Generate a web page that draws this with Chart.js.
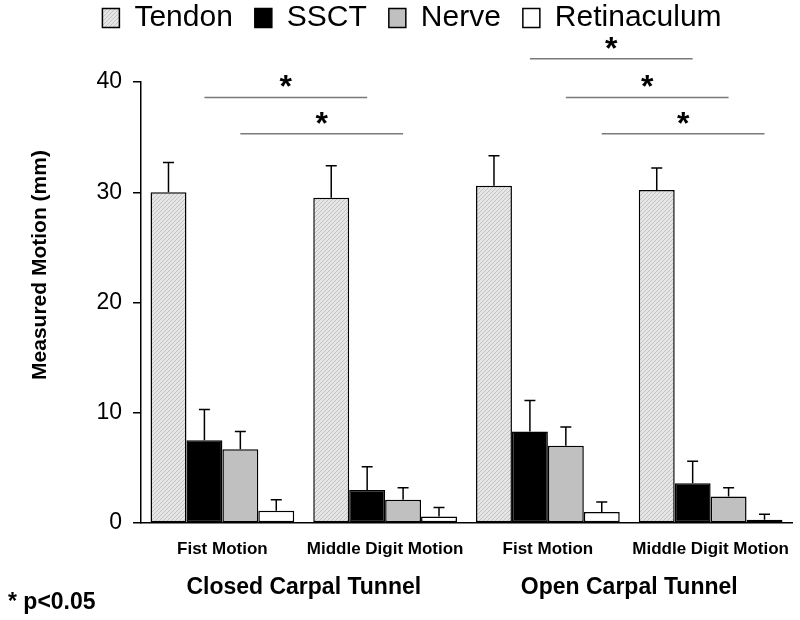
<!DOCTYPE html>
<html>
<head>
<meta charset="utf-8">
<script src="https://cdn.jsdelivr.net/npm/chart.js@4.4.0/dist/chart.umd.min.js"></script>
<style>
  body { margin: 0; background: #fff; }
  #wrap { width: 800px; height: 620px; }
</style>
</head>
<body>
<div id="wrap"><canvas id="grafico"></canvas></div>
<script>
// dados
const motions = ['Fist Motion', 'Middle Digit Motion', 'Fist Motion', 'Middle Digit Motion']
const conditions = ['Closed Carpal Tunnel', 'Open Carpal Tunnel']
const seriesNames = ['Tendon', 'SSCT', 'Nerve', 'Retinaculum']

const tendon = [30.0, 29.5, 30.6, 30.2]
const tendonErr = [2.7, 2.9, 2.7, 2.0]
const ssct = [7.5, 3.0, 8.3, 3.6]
const ssctErr = [2.8, 2.1, 2.8, 2.0]
const nerve = [6.7, 2.1, 7.0, 2.4]
const nerveErr = [1.6, 1.1, 1.7, 0.8]
const retin = [1.1, 0.6, 1.0, 0.3]
const retinErr = [1.0, 0.8, 0.9, 0.5]

const yMax = 40
const yStep = 10

// linhas de significancia: serie, grupo inicial, grupo final, nivel
const sigSeries = [1, 2, 1, 2, 3]
const sigFrom = [0, 0, 2, 2, 2]
const sigTo = [1, 1, 3, 3, 3]
const sigLevel = [38.6, 35.3, 42.1, 38.6, 35.3]

const errors = [tendonErr, ssctErr, nerveErr, retinErr]
const FONT = "'Liberation Sans', Arial, sans-serif"

function hatch(ctx) {
  const c = document.createElement('canvas')
  c.width = 4
  c.height = 4
  const g = c.getContext('2d')
  g.fillStyle = '#e6e6e6'
  g.fillRect(0, 0, 4, 4)
  g.fillStyle = '#c2c2c2'
  for (let i = 0; i < 4; i++) g.fillRect(i, 3 - i, 1, 1)
  return ctx.createPattern(c, 'repeat')
}

const extras = {
  id: 'extras',
  beforeInit(chart) {
    const fit = chart.legend.fit
    chart.legend.fit = function () {
      fit.call(this)
      this.height = 82
    }
  },
  afterLayout(chart) {
    const lg = chart.legend
    lg.top = -19
    lg.left += 16
    lg.right += 16
  },
  afterDatasetsDraw(chart) {
    const ctx = chart.ctx
    const y = chart.scales.y
    ctx.save()
    ctx.strokeStyle = '#000'
    ctx.lineWidth = 1.5
    chart.data.datasets.forEach((ds, i) => {
      const meta = chart.getDatasetMeta(i)
      meta.data.forEach((bar, j) => {
        const top = y.getPixelForValue(ds.data[j])
        const end = y.getPixelForValue(ds.data[j] + errors[i][j])
        ctx.beginPath()
        ctx.moveTo(bar.x, top)
        ctx.lineTo(bar.x, end)
        ctx.moveTo(bar.x - 5.5, end)
        ctx.lineTo(bar.x + 5.5, end)
        ctx.stroke()
      })
    })
    // significancia
    ctx.strokeStyle = '#7a7a7a'
    ctx.fillStyle = '#000'
    ctx.font = 'bold 32px ' + FONT
    ctx.textAlign = 'center'
    ctx.textBaseline = 'middle'
    sigSeries.forEach((s, k) => {
      const meta = chart.getDatasetMeta(s)
      const x1 = meta.data[sigFrom[k]].x
      const x2 = meta.data[sigTo[k]].x
      const yy = y.getPixelForValue(sigLevel[k])
      ctx.beginPath()
      ctx.moveTo(x1, yy)
      ctx.lineTo(x2, yy)
      ctx.stroke()
      ctx.fillText('*', (x1 + x2) / 2, yy - 9)
    })
    ctx.restore()
  },
  afterDraw(chart) {
    const ctx = chart.ctx
    const x = chart.scales.x
    const area = chart.chartArea
    ctx.save()
    ctx.fillStyle = '#000'
    ctx.textAlign = 'center'
    ctx.textBaseline = 'middle'
    ctx.font = 'bold 23px ' + FONT
    conditions.forEach((c, k) => {
      const cx = (x.getPixelForValue(2 * k) + x.getPixelForValue(2 * k + 1)) / 2
      ctx.fillText(c, cx, area.bottom + 65)
    })
    ctx.font = 'bold 21px ' + FONT
    ctx.save()
    ctx.translate(40, 265)
    ctx.rotate(-Math.PI / 2)
    ctx.fillText('Measured Motion (mm)', 0, 0)
    ctx.restore()
    ctx.textAlign = 'left'
    ctx.font = 'bold 23px ' + FONT
    ctx.fillText('* p<0.05', 8, 603)
    ctx.restore()
  }
}

window.addEventListener('load', setup)
function setup() {
  const ctx = document.getElementById('grafico').getContext('2d')
  const fills = [hatch(ctx), '#000000', '#c0c0c0', '#ffffff']
  const values = [tendon, ssct, nerve, retin]
  const graph = new Chart(ctx, {
    type: 'bar',
    data: {
      labels: motions,
      datasets: seriesNames.map((name, i) => ({
        label: name,
        data: values[i],
        backgroundColor: fills[i],
        borderColor: '#000',
        borderWidth: 1.5,
        borderSkipped: false,
        categoryPercentage: 0.883,
        barPercentage: 1
      }))
    },
    options: {
      responsive: true,
      maintainAspectRatio: false,
      animation: false,
      layout: { padding: { left: 0, right: 8, top: 0, bottom: 0 } },
      plugins: {
        tooltip: { enabled: false },
        legend: {
          position: 'top',
          labels: {
            boxWidth: 17,
            boxHeight: 19,
            padding: 22,
            color: '#000',
            font: { family: FONT, size: 30 }
          }
        }
      },
      scales: {
        x: {
          grid: { display: false, drawTicks: false },
          border: { display: true, color: '#000', width: 1.5 },
          ticks: { color: '#000', padding: 16, font: { family: FONT, size: 17, weight: 'bold' }, maxRotation: 0 },
          afterFit(scale) {
            scale.height = 97
            scale.paddingLeft = 0
            scale.paddingRight = 0
          }
        },
        y: {
          min: 0,
          max: yMax,
          grid: { drawOnChartArea: false, drawTicks: true, tickLength: 8, color: '#000', lineWidth: 1.5 },
          border: { display: true, color: '#000', width: 1.5 },
          ticks: { stepSize: yStep, color: '#000', padding: 11, font: { family: FONT, size: 23 } },
          afterFit(scale) { scale.width = 141 }
        }
      }
    },
    plugins: [extras]
  })
}
</script>
</body>
</html>
